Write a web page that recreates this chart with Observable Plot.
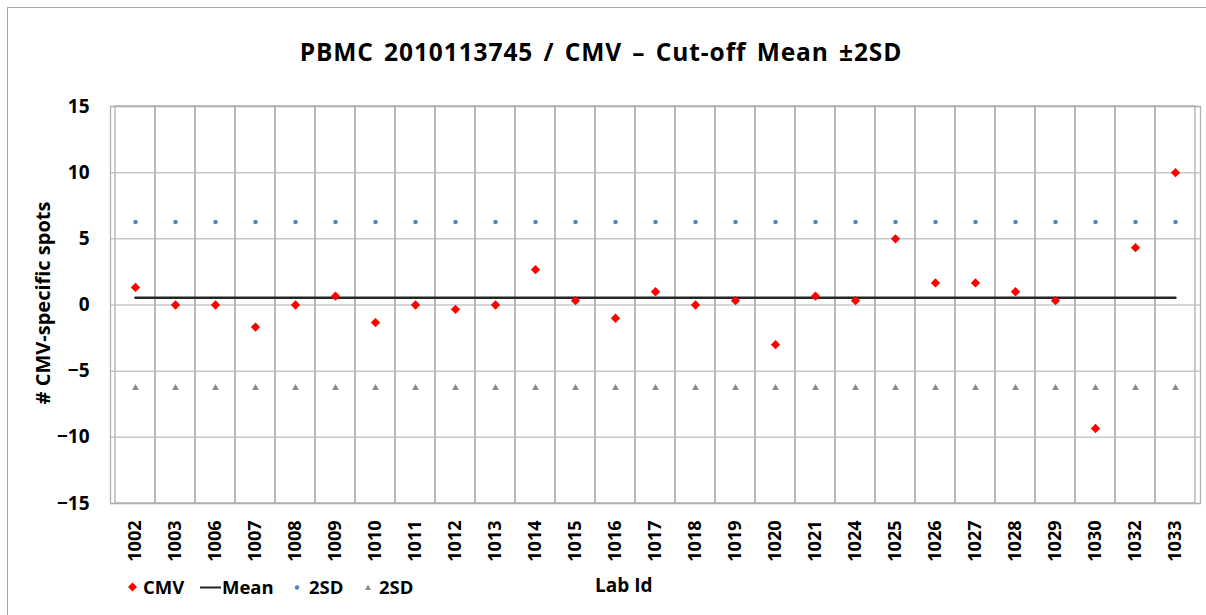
<!DOCTYPE html>
<html>
<head>
<meta charset="utf-8">
<script src="https://cdn.jsdelivr.net/npm/d3@7"></script>
<script src="https://cdn.jsdelivr.net/npm/@observablehq/plot@0.6"></script>
<style>
  html, body { margin: 0; padding: 0; background: #fff; }
  #wrap { position: relative; width: 1206px; height: 615px; overflow: hidden; font-family: "Open Sans", sans-serif; font-weight: 700; color: #000; }
  #border { position: absolute; left: 7px; top: 7px; width: 1220px; height: 640px; border: 1px solid #a6a6a6; box-sizing: border-box; }
  #chart { position: absolute; left: 0; top: 0; }
  .t { position: absolute; white-space: nowrap; }
  #title { left: 0; width: 1202px; top: 36px; text-align: center; font-size: 24.5px; line-height: 32px; letter-spacing: 0.9px; word-spacing: 3px; }
  #ytitle { left: 42px; top: 303px; font-size: 20px; transform: translate(-50%, -50%) rotate(-90deg); }
  #xtitle { left: 595px; top: 571px; font-size: 19px; line-height: 28px; }
  .leg { position: absolute; top: 573px; font-size: 18.5px; line-height: 28px; display: flex; align-items: center; }
  .leg svg { display: block; }
</style>
</head>
<body>
<div id="wrap">
  <div id="border"></div>
  <div id="chart"></div>
  <div class="t" id="title">PBMC 2010113745 / CMV – Cut-off Mean ±2SD</div>
  <div class="t" id="ytitle"># CMV-specific spots</div>
  <div class="t" id="xtitle">Lab Id</div>
  <div class="leg" style="left:126px"><svg width="13" height="14"><path d="M6.5,2.5L11,7L6.5,11.5L2,7Z" fill="#ff0000"/></svg><span style="margin-left:4px">CMV</span></div>
  <div class="leg" style="left:200px"><svg width="22" height="14"><line x1="0" y1="7.5" x2="21" y2="7.5" stroke="#262626" stroke-width="2"/></svg><span>Mean</span></div>
  <div class="leg" style="left:292px"><svg width="13" height="14"><circle cx="5" cy="7.5" r="2.2" fill="#4f81bd"/></svg><span style="margin-left:4px">2SD</span></div>
  <div class="leg" style="left:362px"><svg width="13" height="14"><path d="M6,4.5L9,10L3,10Z" fill="#8c8c8c"/></svg><span style="margin-left:4px">2SD</span></div>
</div>
<script>
const labIds = ["1002","1003","1006","1007","1008","1009","1010","1011","1012","1013","1014","1015","1016","1017","1018","1019","1020","1021","1024","1025","1026","1027","1028","1029","1030","1032","1033"];
const cmv = [1.33, 0, 0, -1.67, 0, 0.67, -1.33, 0, -0.33, 0, 2.67, 0.33, -1, 1, 0, 0.33, -3, 0.67, 0.33, 5, 1.67, 1.67, 1, 0.33, -9.33, 4.33, 10];
const mean = [0.55, 0.55, 0.55, 0.55, 0.55, 0.55, 0.55, 0.55, 0.55, 0.55, 0.55, 0.55, 0.55, 0.55, 0.55, 0.55, 0.55, 0.55, 0.55, 0.55, 0.55, 0.55, 0.55, 0.55, 0.55, 0.55, 0.55];
const upper2SD = [6.27, 6.27, 6.27, 6.27, 6.27, 6.27, 6.27, 6.27, 6.27, 6.27, 6.27, 6.27, 6.27, 6.27, 6.27, 6.27, 6.27, 6.27, 6.27, 6.27, 6.27, 6.27, 6.27, 6.27, 6.27, 6.27, 6.27];
const lower2SD = [-6.27, -6.27, -6.27, -6.27, -6.27, -6.27, -6.27, -6.27, -6.27, -6.27, -6.27, -6.27, -6.27, -6.27, -6.27, -6.27, -6.27, -6.27, -6.27, -6.27, -6.27, -6.27, -6.27, -6.27, -6.27, -6.27, -6.27];
const yTicks = [-15, -10, -5, 0, 5, 10, 15];

const rows = labIds.map((id, i) => ({id, cmv: cmv[i], mean: mean[i], up: upper2SD[i], lo: lower2SD[i]}));

const chart = Plot.plot({
  width: 1206,
  height: 615,
  marginLeft: 110,
  marginRight: 6,
  marginTop: 106,
  marginBottom: 112,
  style: {fontFamily: "Open Sans, sans-serif", fontWeight: "700", fontSize: "19px", color: "#000", background: "transparent"},
  x: {type: "band", domain: labIds, padding: 0},
  y: {domain: [-15, 15]},
  marks: [
    Plot.gridY(yTicks, {stroke: "#c8c8c8", strokeOpacity: 1, strokeWidth: 1.5}),
    Plot.cell(labIds, {x: d => d, fill: "none", stroke: "#b0b0b0", strokeWidth: 1.3}),
    Plot.frame({stroke: "#b0b0b0", strokeWidth: 1.3}),
    Plot.axisY(yTicks, {tickSize: 0, tickPadding: 21, label: null, fontSize: 19, fontWeight: "bold", fill: "#000"}),
    Plot.axisX({tickRotate: -90, tickSize: 0, tickPadding: 17, label: null, fontSize: 18, fontWeight: "bold", fill: "#000"}),
    Plot.dot(rows, {x: "id", y: "up", r: 2.2, fill: "#4f81bd", stroke: "none"}),
    Plot.dot(rows, {x: "id", y: "lo", symbol: "triangle", r: 2.6, fill: "#8c8c8c", stroke: "none"}),
    Plot.line(rows, {x: "id", y: "mean", stroke: "#262626", strokeWidth: 2.5}),
    Plot.dot(rows, {x: "id", y: "cmv", symbol: "diamond2", r: 4.2, fill: "#ff0000", stroke: "none"})
  ]
});
document.getElementById("chart").appendChild(chart);
</script>
</body>
</html>
